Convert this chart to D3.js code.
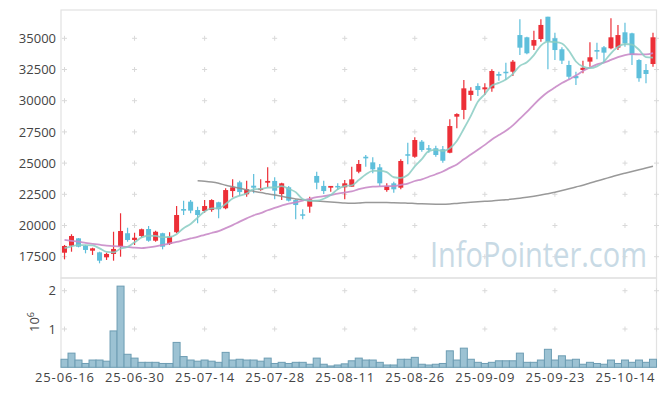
<!DOCTYPE html>
<html><head><meta charset="utf-8">
<script src="https://cdn.jsdelivr.net/npm/d3@7"></script>
<style>body{margin:0;background:#fff}svg{display:block}text{font-family:"Open Sans",sans-serif}</style>
</head><body><svg id="c" width="665" height="396"></svg>
<script>
const dates=["25-06-16","25-06-17","25-06-18","25-06-19","25-06-20","25-06-23","25-06-24","25-06-25","25-06-26","25-06-27",
"25-06-30","25-07-01","25-07-02","25-07-03","25-07-04","25-07-07","25-07-08","25-07-09","25-07-10","25-07-11",
"25-07-14","25-07-15","25-07-16","25-07-17","25-07-18","25-07-21","25-07-22","25-07-23","25-07-24","25-07-25",
"25-07-28","25-07-29","25-07-30","25-07-31","25-08-01","25-08-04","25-08-05","25-08-06","25-08-07","25-08-08",
"25-08-11","25-08-12","25-08-13","25-08-14","25-08-18","25-08-19","25-08-20","25-08-21","25-08-22","25-08-25",
"25-08-26","25-08-27","25-08-28","25-08-29","25-09-01","25-09-02","25-09-03","25-09-04","25-09-05","25-09-08",
"25-09-09","25-09-10","25-09-11","25-09-12","25-09-15","25-09-16","25-09-17","25-09-18","25-09-19","25-09-22",
"25-09-23","25-09-24","25-09-25","25-09-26","25-09-29","25-09-30","25-10-01","25-10-02","25-10-10","25-10-13",
"25-10-14","25-10-15","25-10-16","25-10-17","25-10-20"];
const open=[17820,18380,18970,18360,17980,17850,17450,17720,18300,19380,
18840,19160,19720,18780,19380,18520,19460,21320,21910,21240,
21160,21240,21860,21380,22760,23460,22500,23190,22840,23430,
23570,22520,23060,22040,20900,21510,23970,23170,23030,23170,
23060,23110,24310,25510,25060,24660,22840,23380,23030,25710,
25510,26720,26190,26190,26110,25830,28720,29260,30460,31180,
30910,30990,32140,32320,32320,35260,35080,34410,34940,36730,
35000,34120,32860,31980,32460,33130,34060,34280,34200,34250,
35480,35400,33260,32460,32940];
const high=[18440,19300,19000,18440,18220,17900,17820,19500,20980,19820,
19420,19750,19960,19580,19420,19460,21560,21990,22040,21510,
22040,22100,21910,22980,23700,23590,23590,24130,23700,24660,
23860,23430,23170,22100,21300,22310,24310,23590,23170,23380,
23650,24710,25250,25650,25470,24930,23380,23510,25300,26630,
27070,26850,26450,26400,26370,28510,28990,31660,31070,31390,
31390,32520,32320,33050,33260,36520,35130,35610,36520,36730,
35450,34280,33210,32320,33210,34680,34650,34380,36600,36070,
36250,35450,33320,32940,35450];
const low=[17290,17900,18250,17770,17640,16970,17240,17180,17500,18700,
18440,19050,18700,18700,18090,18440,19380,20840,20980,20180,
21030,21100,20580,21300,22260,22360,22300,22580,22790,23060,
22100,22040,21930,20500,20500,21030,22900,22520,22710,22840,
22100,23100,24180,24710,24180,23170,22710,22630,22900,24900,
25430,25910,25830,25510,25030,25790,27790,28510,30000,30380,
30460,30720,31600,31660,31980,33660,33720,34060,34730,32520,
33260,32940,31720,31260,32200,32720,33320,33050,34120,34060,
34330,32860,31520,31390,32720];
const close=[18360,19160,18300,18040,18170,17180,17720,18120,19560,18840,
19020,19700,18780,19500,18300,19100,20840,21190,21190,20840,
21560,22040,21300,22840,23060,22680,22900,23030,22980,23570,
22790,23380,21990,21640,20790,22100,23430,22760,23170,23060,
23380,23700,24930,25380,24500,23380,23170,22900,25170,25630,
26850,26050,26110,25650,25190,27970,28930,30990,30800,30860,
31070,32380,32000,32200,33130,34250,33800,34860,36070,34730,
34060,33210,31920,31800,32640,33480,33930,33850,35080,35260,
34600,33660,31800,32140,35080];
const volume=[210000,370000,190000,100000,190000,190000,160000,950000,2120000,340000,
240000,130000,130000,130000,100000,100000,650000,280000,190000,160000,
190000,160000,130000,390000,190000,210000,190000,190000,160000,240000,
100000,130000,100000,130000,130000,80000,240000,80000,35000,60000,
90000,170000,240000,190000,190000,130000,60000,60000,210000,210000,
260000,80000,60000,80000,100000,430000,190000,500000,210000,130000,
100000,130000,170000,170000,170000,370000,130000,130000,190000,470000,
190000,300000,190000,210000,80000,130000,100000,80000,190000,100000,
190000,130000,190000,130000,210000];
const ma5=[18180,18330,18420,18430,18405,18169,17881,17844,18149,18282,
18650,19046,19179,19168,19061,19077,19306,19787,20123,20631,
21123,21364,21386,21718,22162,22391,22562,22908,22936,23036,
23052,23149,22940,22673,22117,21979,21988,22144,22448,22904,
23160,23215,23647,24091,24380,24380,24272,23867,23823,24048,
24742,25319,25960,26056,25969,26194,26771,27748,28779,29912,
30532,31221,31423,31702,32155,32790,33074,33646,34420,34741,
34704,34585,33997,33143,32726,32609,32753,33138,33795,34319,
34543,34490,34080,33492,33455];
const ma20=[18840,18770,18700,18610,18530,18460,18390,18340,18310,18280,
18220,18190,18250,18330,18440,18560,18680,18820,18960,19095,
19255,19399,19549,19789,20034,20310,20569,20815,20986,21222,
21411,21595,21755,21862,21986,22136,22266,22345,22444,22555,
22646,22728,22910,23037,23109,23143,23156,23150,23259,23362,
23565,23698,23904,24105,24325,24619,24894,25306,25687,26077,
26462,26896,27249,27590,28021,28564,29096,29694,30239,30694,
31055,31413,31703,32011,32383,32659,32908,33051,33265,33485,
33661,33726,33715,33712,33810];
const ma60=[null,null,null,null,null,null,null,null,null,null,
null,null,null,null,null,null,null,null,null,23590,
23549,23485,23381,23229,23101,22989,22860,22748,22636,22540,
22444,22339,22227,22123,22059,22011,21963,21923,21891,21851,
21803,21787,21803,21835,21851,21851,21835,21819,21803,21787,
21763,21738,21722,21706,21698,21722,21771,21819,21867,21907,
21939,21971,22019,22059,22115,22179,22259,22347,22444,22540,
22668,22804,22940,23085,23229,23405,23565,23726,23886,24046,
24190,24327,24463,24607,24743];
const yTicks=[17500,20000,22500,25000,27500,30000,32500,35000];
const volTicks=[1000000,2000000];
const xTickLabels=["25-06-16","25-06-30","25-07-14","25-07-28","25-08-11","25-08-26","25-09-09","25-09-23","25-10-14"];

const svg=d3.select("#c");
const L=61,R=656.5,T=10,MID=278,B=367.3;
const x=d3.scaleBand().domain(dates).range([L,R]).padding(0);
const bw=x.bandwidth();
const cx=d=>x(d)+bw/2;
const y=d3.scaleLinear().domain([15793,37268]).range([MID,T]);
const yv=d3.scaleLinear().domain([0,2332000]).range([B,MID]);
const frameC="#e2e2e2", gridC="#d9d9d9";

// frames
svg.append("rect").attr("x",L).attr("y",T).attr("width",R-L).attr("height",MID-T).attr("fill","none").attr("stroke",frameC).attr("stroke-width",1.2);
svg.append("rect").attr("x",L).attr("y",MID).attr("width",R-L).attr("height",B-MID).attr("fill","none").attr("stroke",frameC).attr("stroke-width",1.2);

// grid crosses
const cross=(px,py)=>svg.append("path").attr("d",`M${px-2.5},${py}H${px+2.5}M${px},${py-2.5}V${py+2.5}`).attr("stroke",gridC).attr("stroke-width",1).attr("fill","none");
xTickLabels.forEach(d=>{yTicks.forEach(v=>cross(cx(d),y(v)));volTicks.forEach(v=>cross(cx(d),yv(v)));});
yTicks.forEach(v=>cross(R,y(v)));
volTicks.forEach(v=>cross(R,yv(v)));

// watermark (scaled horizontally to the reference width)
const wm=svg.append("text").attr("x",0).attr("y",0).attr("font-size",35).attr("fill","#c8dae5").text("InfoPointer.com");
const wmW=wm.node().getComputedTextLength();
wm.attr("transform",`translate(430,266.5) scale(${217/wmW},1)`);

// volume bars
svg.append("g").selectAll("rect").data(volume).join("rect")
  .attr("x",(d,i)=>x(dates[i])).attr("width",bw)
  .attr("y",d=>yv(d)).attr("height",d=>B-yv(d))
  .attr("fill","#9cc2d3").attr("stroke","#6d9db3").attr("stroke-width",1);

// candles
const red="#ec2f37", blue="#5ebfdb";
const cg=svg.append("g");
dates.forEach((d,i)=>{
  const col=close[i]>=open[i]?red:blue;
  cg.append("line").attr("x1",cx(d)).attr("x2",cx(d)).attr("y1",y(high[i])).attr("y2",y(low[i])).attr("stroke",col).attr("stroke-width",1.2);
  const y0=y(Math.max(open[i],close[i])), y1=y(Math.min(open[i],close[i]));
  cg.append("rect").attr("x",cx(d)-2.5).attr("width",5).attr("y",y0).attr("height",Math.max(1.5,y1-y0)).attr("fill",col);
});

// moving averages
const line=d3.line().defined(d=>d!=null).x((d,i)=>cx(dates[i])).y(d=>y(d)).curve(d3.curveMonotoneX);
svg.append("path").attr("d",line(ma60)).attr("fill","none").attr("stroke","#8e8e8e").attr("stroke-width",1.5).attr("opacity",0.9);
svg.append("path").attr("d",line(ma20)).attr("fill","none").attr("stroke","#c98bc8").attr("stroke-width",1.8).attr("opacity",0.9);
svg.append("path").attr("d",line(ma5)).attr("fill","none").attr("stroke","#8acdc3").attr("stroke-width",1.8).attr("opacity",0.85);

// axes
const yAx=svg.append("g").attr("transform",`translate(${L},0)`).call(d3.axisLeft(y).tickValues(yTicks).tickSize(0).tickPadding(5).tickFormat(d3.format("d")));
const vAx=svg.append("g").attr("transform",`translate(${L},0)`).call(d3.axisLeft(yv).tickValues(volTicks).tickSize(0).tickPadding(5).tickFormat(d=>d/1e6));
const xAx=svg.append("g").attr("transform",`translate(0,${B})`).call(d3.axisBottom(x).tickValues(xTickLabels).tickSize(0).tickPadding(5));
[yAx,vAx,xAx].forEach(g=>{g.select(".domain").remove();g.selectAll("text").attr("font-family","Open Sans, sans-serif").attr("font-size",13).attr("fill","#444");});
xAx.selectAll("text").attr("textLength",59).attr("lengthAdjust","spacing");

const vt=svg.append("text").attr("transform","translate(39,322) rotate(-90)").attr("text-anchor","middle").attr("font-size",13).attr("fill","#444");
vt.append("tspan").text("10");
vt.append("tspan").attr("dy",-5).attr("font-size",9).text("6");
</script></body></html>
